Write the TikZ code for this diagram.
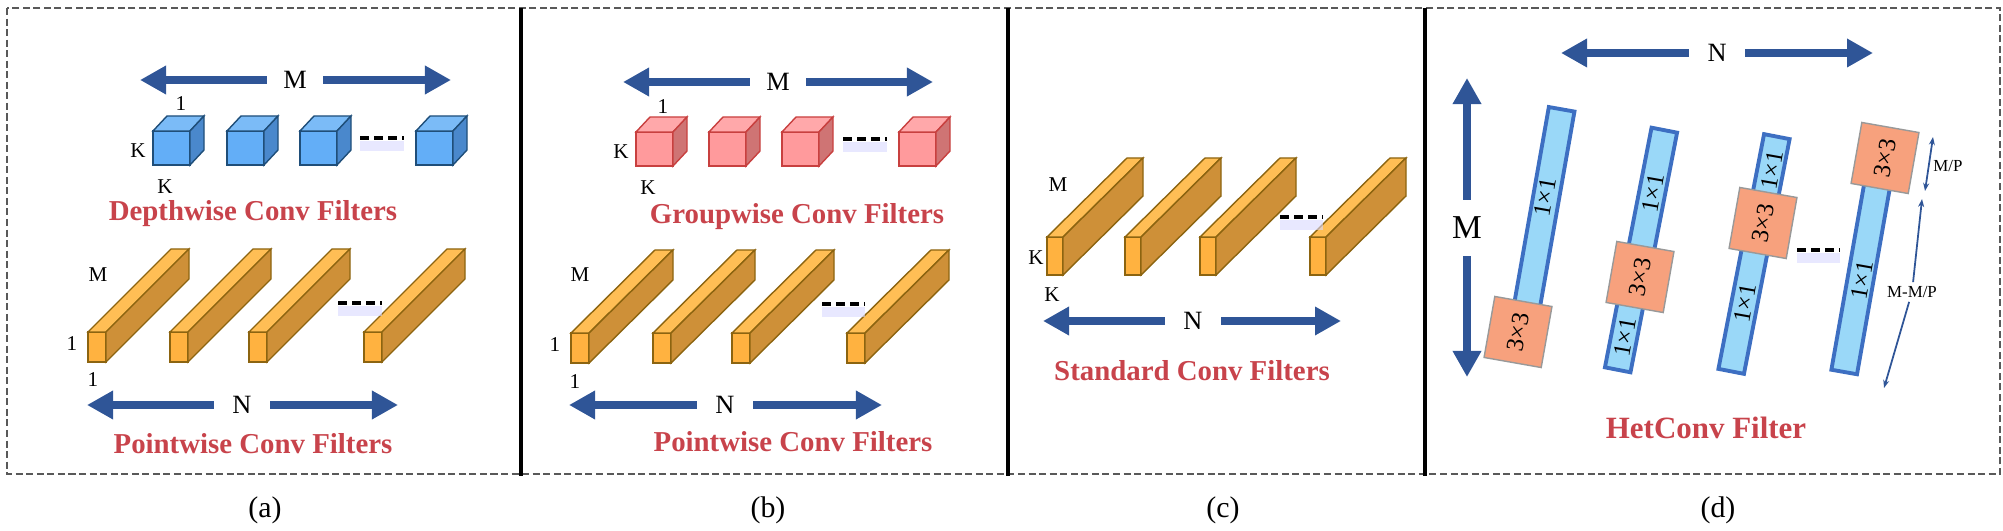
\documentclass[tikz,border=0pt]{standalone}
\usepackage{fontspec}
\setmainfont{Liberation Serif}
\usepackage{tikz}
\usetikzlibrary{positioning}
\usetikzlibrary{arrows.meta}
\definecolor{arrowblue}{HTML}{2F5597}
\definecolor{titlered}{HTML}{C8434B}
\definecolor{hetblue}{HTML}{3D6FC2}
\definecolor{hetfill}{HTML}{9AD8F8}
\definecolor{salmon}{HTML}{F7A17D}
\tikzstyle{fat} = [line width=2.3pt,draw=arrowblue,-{Triangle[length=0.26cm,width=0.27cm]}]
\tikzstyle{thinarr} = [line width=0.5pt,draw=arrowblue,-{Stealth[length=0.08cm,width=0.06cm]}]
\tikzstyle{title} = [text=titlered,font=\bfseries\fontsize{8.2}{9}\selectfont]
\tikzstyle{gap} = [font=\fontsize{7.5}{8}\selectfont,minimum size=0.55cm,inner sep=0pt]
\tikzstyle{lbl} = [font=\fontsize{6}{7}\selectfont,inner sep=0pt]
\tikzstyle{dots} = [line width=0.9pt,dash pattern=on 0.09cm off 0.05cm]
\tikzstyle{hbar} = [draw=hetblue,fill=hetfill,line width=1.1pt,minimum width=0.26cm]
\tikzstyle{hbox} = [draw=gray!80,fill=salmon,line width=0.4pt,minimum size=0.58cm,
  rotate=-10,font=\fontsize{7}{8}\selectfont]
\tikzstyle{onetxt} = [font=\fontsize{7}{8}\selectfont,rotate=80,inner sep=0pt]
\newcommand{\setprism}[4]{\definecolor{pfront}{HTML}{#1}\definecolor{ptop}{HTML}{#2}%
  \definecolor{pside}{HTML}{#3}\definecolor{pborder}{HTML}{#4}}
\newcommand{\prism}[6]{%
  \filldraw[fill=pfront,draw=pborder] (#1,#2) rectangle ++(#3,#4);
  \filldraw[fill=ptop,draw=pborder] (#1,#2) -- ++(#5,#6) -- ++(#3,0) -- ++({-(#5)},{-(#6)}) -- cycle;
  \filldraw[fill=pside,draw=pborder] ({#1+#3},#2) -- ++(#5,#6) -- ++(0,#4) -- ++({-(#5)},{-(#6)}) -- cycle;}
\newcommand{\dashes}[3]{%
  \draw[line width=3pt,blue!15,opacity=0.6] (#1,{#3+8}) -- (#2,{#3+8});
  \draw[dots] (#1,#3) -- (#2,#3);}

\begin{document}
\begin{tikzpicture}[x=0.01cm,y=-0.01cm]
	\useasboundingbox (0,0) rectangle (2003,531);
	%Frame
	\draw[gray!70!black,line width=0.5pt,dash pattern=on 2pt off 1pt] (7,8) rectangle (2000,474);
	\foreach \xd in {521,1008,1425}
		\draw[line width=0.9pt] (\xd,8) -- (\xd,476);
	
	%Panel (a)
	\setprism{63AEF7}{7BBBF7}{4A88CC}{1F4E79}
	\foreach \xc in {153,227,300,416} {\prism{\xc}{131}{37}{34}{14}{-15}}
	\setprism{FFB240}{FFBE55}{CE9038}{8C6410}
	\foreach \xc in {88,170,249,364} {\prism{\xc}{332}{18}{30}{83}{-83}}
	\dashes{360}{404}{138}
	\dashes{338}{382}{303}
	\node[gap] (mA) at (295,80) {M};
	\coordinate (mAl) at (140,80);
	\coordinate (mAr) at (451,80);
	\draw[fat] (mA) -- (mAl);
	\draw[fat] (mA) -- (mAr);
	\node[gap] (nA) at (242,405) {N};
	\coordinate (nAl) at (87,405);
	\coordinate (nAr) at (398,405);
	\draw[fat] (nA) -- (nAl);
	\draw[fat] (nA) -- (nAr);
	\node[lbl] (oneA) at (181,104) {1};
	\node[lbl] (kA) at (138,151) {K};
	\node[lbl] (kkA) at (165,187) {K};
	\node[lbl] (mmA) at (98,275) {M};
	\node[lbl] (pa) at (72,344) {1};
	\node[lbl] (pb) at (93,380) {1};
	\node[title] (dwA) at (253,214) {Depthwise Conv Filters};
	\node[title] (pwA) at (253,444) {Pointwise Conv Filters};
	
	%Panel (b)
	\setprism{FF9A9C}{FFA8AA}{CF7474}{C8403F}
	\foreach \xc in {636,709,782,899} {\prism{\xc}{132}{37}{34}{14}{-15}}
	\setprism{FFB240}{FFBE55}{CE9038}{8C6410}
	\foreach \xc in {571,653,732,847} {\prism{\xc}{333}{18}{30}{84}{-83}}
	\dashes{843}{887}{139}
	\dashes{822}{865}{304}
	\node[gap] (mB) at (778,82) {M};
	\coordinate (mBl) at (623,82);
	\coordinate (mBr) at (933,82);
	\draw[fat] (mB) -- (mBl);
	\draw[fat] (mB) -- (mBr);
	\node[gap] (nB) at (725,405) {N};
	\coordinate (nBl) at (569,405);
	\coordinate (nBr) at (882,405);
	\draw[fat] (nB) -- (nBl);
	\draw[fat] (nB) -- (nBr);
	\node[lbl] (oneB) at (663,107) {1};
	\node[lbl] (kB) at (621,152) {K};
	\node[lbl] (kkB) at (648,188) {K};
	\node[lbl] (mmB) at (580,275) {M};
	\node[lbl] (pc) at (555,345) {1};
	\node[lbl] (pd) at (575,382) {1};
	\node[title] (gwB) at (797,217) {Groupwise Conv Filters};
	\node[title] (pwB) at (793,442) {Pointwise Conv Filters};
	
	%Panel (c)
	\foreach \xc in {1047,1125,1200,1310} {\prism{\xc}{237}{16}{38}{80}{-79}}
	\dashes{1280}{1323}{217}
	\node[gap] (nC) at (1193,321) {N};
	\coordinate (nCl) at (1043,321);
	\coordinate (nCr) at (1341,321);
	\draw[fat] (nC) -- (nCl);
	\draw[fat] (nC) -- (nCr);
	\node[lbl] (mmC) at (1058,185) {M};
	\node[lbl] (kC) at (1036,258) {K};
	\node[lbl] (kkC) at (1052,295) {K};
	\node[title] (stC) at (1192,371) {Standard Conv Filters};
	
	%Panel (d)
	\node[gap] (nD) at (1717,53) {N};
	\coordinate (nDl) at (1561,53);
	\coordinate (nDr) at (1873,53);
	\draw[fat] (nD) -- (nDl);
	\draw[fat] (nD) -- (nDr);
	\node[gap,font=\fontsize{9.5}{10}\selectfont] (mD) at (1467,228) {M};
	\coordinate (mDt) at (1467,78);
	\coordinate (mDb) at (1467,377);
	\draw[fat] (mD) -- (mDt);
	\draw[fat] (mD) -- (mDb);
	
	\node[hbar,minimum height=2.49cm,rotate=-10] (bar1) at (1540,232) {};
	\node[hbar,minimum height=2.44cm,rotate=-11] (bar2) at (1641,250) {};
	\node[hbar,minimum height=2.39cm,rotate=-11] (bar3) at (1754,254) {};
	\node[hbar,minimum height=2.05cm,rotate=-10] (bar4) at (1862,271) {};
	\node[onetxt] (t1) at (1545,197) {1×1};
	\node[onetxt] (t2) at (1653,193) {1×1};
	\node[onetxt] (t3) at (1625,337) {1×1};
	\node[onetxt] (t4) at (1772,170) {1×1};
	\node[onetxt] (t5) at (1745,303) {1×1};
	\node[onetxt] (t6) at (1862,280) {1×1};
	\node[hbox] (b1) at (1518,332) {\rotatebox{90}{3×3}};
	\node[hbox] (b2) at (1640,277) {\rotatebox{90}{3×3}};
	\node[hbox] (b3) at (1763,223) {\rotatebox{90}{3×3}};
	\node[hbox] (b4) at (1885,158) {\rotatebox{90}{3×3}};
	\dashes{1797}{1840}{250}
	
	\node[lbl,font=\fontsize{4.8}{5}\selectfont] (mp) at (1948,166) {M/P};
	\coordinate (mpT) at (1933,137);
	\coordinate (mpB) at (1925,191);
	\draw[thinarr,{Stealth[length=0.08cm,width=0.06cm]}-{Stealth[length=0.08cm,width=0.06cm]}] (mpT) -- (mpB);
	\node[lbl,font=\fontsize{4.8}{5}\selectfont,fill=white,inner sep=1pt] (mmp) at (1912,292) {M-M/P};
	\coordinate (mmpT) at (1922,199);
	\coordinate (mmpB) at (1884,388);
	\draw[thinarr] (mmp) -- (mmpT);
	\draw[thinarr] (mmp) -- (mmpB);
	\node[title,font=\bfseries\fontsize{8.8}{9}\selectfont] (hcD) at (1706,428) {HetConv Filter};
	
	%Captions
	\node[font=\fontsize{8.5}{9}\selectfont] (ca) at (265,510) {(a)};
	\node[font=\fontsize{8.5}{9}\selectfont] (cb) at (768,510) {(b)};
	\node[font=\fontsize{8.5}{9}\selectfont] (cc) at (1223,510) {(c)};
	\node[font=\fontsize{8.5}{9}\selectfont] (cd) at (1718,510) {(d)};
\end{tikzpicture}
\end{document}
